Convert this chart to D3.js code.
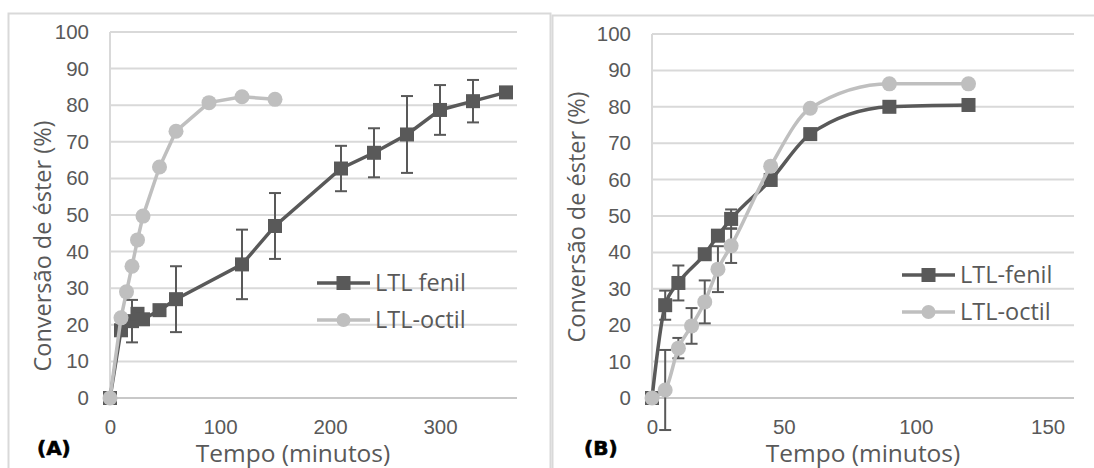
<!DOCTYPE html>
<html lang="pt">
<head>
<meta charset="UTF-8">
<title>Conversão de éster - LTL fenil / LTL-octil</title>
<script src="https://d3js.org/d3.v7.min.js"></script>
<style>
  body { margin: 0; background: #fff; }
  svg { font-family: "Open Sans", sans-serif; }
  .tick text { fill: #595959; font-size: 20.5px; }
  .axis-title { fill: #595959; }
  .legend text { fill: #595959; font-size: 23.5px; }
</style>
</head>
<body>
<svg id="chart" width="1094" height="468"></svg>
<script>
// ---- data ----
// Panel A
const timeA_fenil = [0, 10, 20, 25, 30, 45, 60, 120, 150, 210, 240, 270, 300, 330, 360];
const convA_fenil = [0, 18.5, 21, 23, 21.5, 24, 27, 36.5, 47, 62.7, 67, 72, 78.7, 81.1, 83.5];
const errA_fenil  = [0, 0, 5.8, 0, 0, 0, 9, 9.5, 9, 6.2, 6.7, 10.5, 6.8, 5.8, 1];
const timeA_octil = [0, 10, 15, 20, 25, 30, 45, 60, 90, 120, 150];
const convA_octil = [0, 21.9, 29, 36, 43.2, 49.7, 63.1, 72.9, 80.7, 82.3, 81.6];
// Panel B
const timeB_fenil = [0, 5, 10, 20, 25, 30, 45, 60, 90, 120];
const convB_fenil = [0, 25.5, 31.6, 39.5, 44.6, 49.2, 59.9, 72.5, 80, 80.5];
const errB_fenil  = [0, 4, 4.8, 0, 1.5, 2.6, 0, 0, 0, 0];
const timeB_octil = [0, 5, 10, 15, 20, 25, 30, 45, 60, 90, 120];
const convB_octil = [0, 2.2, 13.7, 19.8, 26.4, 35.4, 41.8, 63.7, 79.6, 86.3, 86.3];
const errB_octil  = [0, 11, 2.8, 4.9, 5.9, 6.3, 4.7, 0, 0, 0, 0];

const yTicks = [0, 10, 20, 30, 40, 50, 60, 70, 80, 90, 100];
const xTicksA = [0, 100, 200, 300];
const xTicksB = [0, 50, 100, 150];

const darkGray = "#595959";
const lightGray = "#bfbfbf";

const svg = d3.select("#chart");

// panel frames
svg.append("rect").attr("x", 8.5).attr("y", 13.5).attr("width", 542).attr("height", 480)
  .attr("fill", "none").attr("stroke", "#d9d9d9").attr("stroke-width", 2);
svg.append("rect").attr("x", 552.5).attr("y", 15.5).attr("width", 560).attr("height", 480)
  .attr("fill", "none").attr("stroke", "#d9d9d9").attr("stroke-width", 2);

function zip(t, v, e) {
  return t.map((d, i) => ({ t: d, v: v[i], e: e ? e[i] : 0 }));
}

function drawPanel(p) {
  const x = d3.scaleLinear().domain(p.xDomain).range([p.left, p.right]);
  const y = d3.scaleLinear().domain([0, 100]).range([398, p.top]);
  const g = svg.append("g");

  // gridlines
  g.append("g").selectAll("line").data(yTicks.slice(1)).join("line")
    .attr("x1", p.left).attr("x2", p.right)
    .attr("y1", d => y(d)).attr("y2", d => y(d))
    .attr("stroke", "#d9d9d9").attr("stroke-width", 2);
  g.append("line").attr("x1", p.left).attr("x2", p.left)
    .attr("y1", y(100)).attr("y2", y(0)).attr("stroke", "#d9d9d9").attr("stroke-width", 2);
  g.append("line").attr("x1", p.left).attr("x2", p.right)
    .attr("y1", y(0)).attr("y2", y(0)).attr("stroke", "#c8c8c8").attr("stroke-width", 2);

  // axes (labels only)
  const yAxis = g.append("g").attr("transform", `translate(${p.left - 21},0)`)
    .call(d3.axisLeft(y).tickValues(yTicks).tickSize(0).tickPadding(0));
  yAxis.select(".domain").remove();
  const xAxis = g.append("g").attr("transform", `translate(0,${y(0) + 21})`)
    .call(d3.axisBottom(x).tickValues(p.xTicks).tickSize(0).tickPadding(0));
  xAxis.select(".domain").remove();

  // axis titles
  g.append("text").attr("class", "axis-title")
    .attr("transform", `translate(${p.yTitleX},${p.yTitleY}) rotate(-90)`)
    .attr("text-anchor", "middle").attr("font-size", 23.5)
    .text("Conversão de éster (%)");
  g.append("text").attr("class", "axis-title")
    .attr("x", p.xTitleX).attr("y", 462)
    .attr("text-anchor", "middle").attr("font-size", 24.5)
    .text("Tempo (minutos)");
  g.append("text").attr("x", p.tagX).attr("y", 455)
    .attr("font-family", "DejaVu Sans").attr("font-size", 20)
    .attr("font-weight", "bold").attr("fill", "#000")
    .attr("stroke", "#000").attr("stroke-width", 0.6)
    .text(p.tag);

  const line = d3.line().x(d => x(d.t)).y(d => y(d.v)).curve(p.curve);

  p.series.forEach(s => {
    const pts = s.data;
    // error bars
    const eb = g.append("g").attr("stroke", darkGray).attr("stroke-width", 2);
    pts.filter(d => d.e > 0).forEach(d => {
      eb.append("line").attr("x1", x(d.t)).attr("x2", x(d.t))
        .attr("y1", y(d.v - d.e)).attr("y2", y(d.v + d.e));
      [d.v - d.e, d.v + d.e].forEach(v => {
        eb.append("line").attr("x1", x(d.t) - 6).attr("x2", x(d.t) + 6)
          .attr("y1", y(v)).attr("y2", y(v));
      });
    });
    g.append("path").datum(pts).attr("d", line)
      .attr("fill", "none").attr("stroke", s.color).attr("stroke-width", 3.5);
    if (s.shape === "square") {
      g.append("g").selectAll("rect").data(pts).join("rect")
        .attr("x", d => x(d.t) - 7).attr("y", d => y(d.v) - 7)
        .attr("width", 14).attr("height", 14).attr("fill", s.color);
    } else {
      g.append("g").selectAll("circle").data(pts).join("circle")
        .attr("cx", d => x(d.t)).attr("cy", d => y(d.v)).attr("r", 7.5)
        .attr("fill", s.color);
    }
  });

  // legend
  const lg = g.append("g").attr("class", "legend");
  p.series.forEach((s, i) => {
    const ly = p.legendY + i * 37;
    lg.append("line").attr("x1", p.legendX).attr("x2", p.legendX + 53)
      .attr("y1", ly).attr("y2", ly).attr("stroke", s.color).attr("stroke-width", 3.5);
    if (s.shape === "square") {
      lg.append("rect").attr("x", p.legendX + 26.5 - 7).attr("y", ly - 7)
        .attr("width", 14).attr("height", 14).attr("fill", s.color);
    } else {
      lg.append("circle").attr("cx", p.legendX + 26.5).attr("cy", ly).attr("r", 7)
        .attr("fill", s.color);
    }
    lg.append("text").attr("x", p.legendX + 58).attr("y", ly).attr("dy", "0.36em")
      .text(s.name);
  });
}

drawPanel({
  left: 110, right: 517, top: 32, xDomain: [0, 370], xTicks: xTicksA,
  yTitleX: 51, yTitleY: 246, xTitleX: 293, tag: "(A)", tagX: 37,
  curve: d3.curveLinear, legendX: 317, legendY: 283,
  series: [
    { name: "LTL fenil", color: darkGray, shape: "square", data: zip(timeA_fenil, convA_fenil, errA_fenil) },
    { name: "LTL-octil", color: lightGray, shape: "circle", data: zip(timeA_octil, convA_octil) }
  ]
});

drawPanel({
  left: 652, right: 1074, top: 34, xDomain: [0, 160], xTicks: xTicksB,
  yTitleX: 585, yTitleY: 217, xTitleX: 863, tag: "(B)", tagX: 584,
  curve: d3.curveMonotoneX, legendX: 902, legendY: 275,
  series: [
    { name: "LTL-fenil", color: darkGray, shape: "square", data: zip(timeB_fenil, convB_fenil, errB_fenil) },
    { name: "LTL-octil", color: lightGray, shape: "circle", data: zip(timeB_octil, convB_octil, errB_octil) }
  ]
});
</script>
</body>
</html>
